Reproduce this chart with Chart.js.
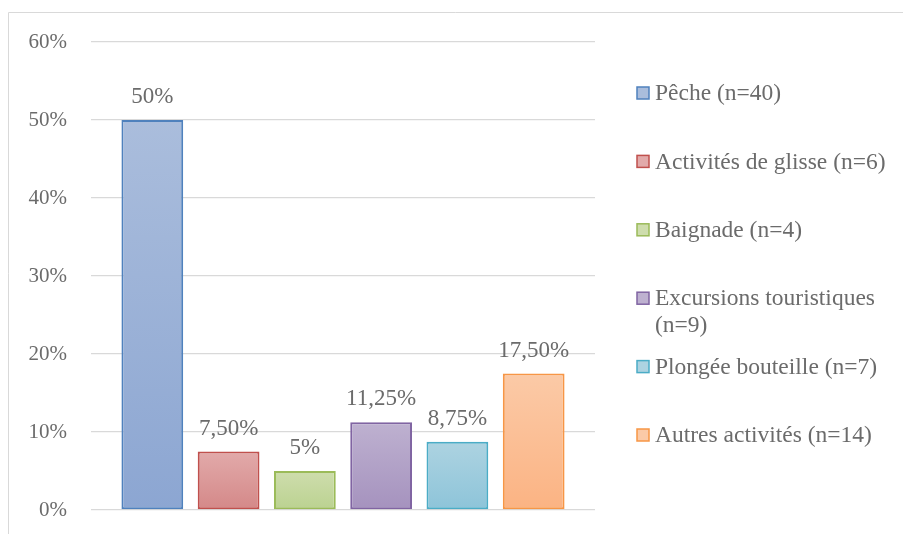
<!DOCTYPE html>
<html lang="fr">
<head>
<meta charset="utf-8">
<title>Activités</title>
<script src="https://cdn.jsdelivr.net/npm/chart.js@4/dist/chart.umd.min.js"></script>
<style>
  html, body { margin: 0; padding: 0; background: #fff; }
  .chart-wrap { position: relative; width: 903px; height: 534px; }
</style>
</head>
<body>
<div class="chart-wrap"><canvas id="chart"></canvas></div>
<script>
// data
const seriesNames = [
  "Pêche (n=40)",
  "Activités de glisse (n=6)",
  "Baignade (n=4)",
  "Excursions touristiques (n=9)",
  "Plongée bouteille (n=7)",
  "Autres activités (n=14)",
];
const seriesValues = [50, 7.5, 5, 11.25, 8.75, 17.5];
const yTicks = [0, 10, 20, 30, 40, 50, 60];

// office palette
const borderColors = ["#4F81BD", "#C0504D", "#9BBB59", "#8064A2", "#4BACC6", "#F79646"];
const fillTop = ["#AABDDC", "#E2AAAA", "#CEDDAD", "#BEB1D0", "#ADD3E1", "#FBCAA7"];
const fillBottom = ["#8CA6D2", "#D48888", "#BBD290", "#A592BE", "#8DC4D9", "#FBB383"];

const FONT = '"Liberation Serif", "Times New Roman", serif';
const TEXT = "#6b6b6b";

function formatPct(v) {
  if (Number.isInteger(v)) return v + "%";
  return v.toFixed(2).replace(".", ",") + "%";
}

const ctx = document.getElementById("chart").getContext("2d");

const frame = {
  id: "frame",
  beforeDraw(chart) {
    const c = chart.ctx;
    c.save();
    c.strokeStyle = "#D9D9D9";
    c.lineWidth = 1;
    c.beginPath();
    c.moveTo(8.5, chart.height);
    c.lineTo(8.5, 12.5);
    c.lineTo(chart.width, 12.5);
    c.stroke();
    c.restore();
  },
};

const dataLabels = {
  id: "dataLabels",
  afterDatasetsDraw(chart) {
    const c = chart.ctx;
    c.save();
    c.font = "23px " + FONT;
    c.fillStyle = TEXT;
    c.textAlign = "center";
    c.textBaseline = "alphabetic";
    chart.data.datasets.forEach((ds, i) => {
      const bar = chart.getDatasetMeta(i).data[0];
      c.fillText(formatPct(ds.data[0]), bar.x, bar.y - 17);
    });
    c.restore();
  },
};

// legend drawn by hand so the long entry can wrap like Excel
const sideLegend = {
  id: "sideLegend",
  afterDraw(chart) {
    const c = chart.ctx;
    const x0 = 637;
    const textX = 655;
    const maxW = 240;
    c.save();
    c.font = "23.5px " + FONT;
    c.textBaseline = "middle";
    c.textAlign = "left";
    chart.data.datasets.forEach((ds, i) => {
      const y = 93 + i * 68.4;
      // wrap words
      const words = ds.label.split(" ");
      const lines = [];
      let line = "";
      words.forEach((w) => {
        const test = line ? line + " " + w : w;
        if (c.measureText(test).width > maxW && line) {
          lines.push(line);
          line = w;
        } else {
          line = test;
        }
      });
      lines.push(line);

      c.fillStyle = fillTop[i];
      c.fillRect(x0, y - 6, 12, 12);
      c.strokeStyle = borderColors[i];
      c.lineWidth = 1.5;
      c.strokeRect(x0, y - 6, 12, 12);

      c.fillStyle = TEXT;
      lines.forEach((l, k) => c.fillText(l, textX, y + 1 + k * 27));
    });
    c.restore();
  },
};

new Chart(ctx, {
  type: "bar",
  data: {
    labels: [""],
    datasets: seriesNames.map((name, i) => ({
      label: name,
      data: [seriesValues[i]],
      borderColor: borderColors[i],
      borderWidth: 2,
      borderSkipped: false,
      categoryPercentage: 0.908,
      barPercentage: 0.81,
      backgroundColor: (context) => {
        const chart = context.chart;
        if (!chart.chartArea) return fillTop[i];
        const ys = chart.scales.y;
        const top = ys.getPixelForValue(seriesValues[i]);
        const base = ys.getPixelForValue(0);
        const g = chart.ctx.createLinearGradient(0, top, 0, base);
        g.addColorStop(0, fillTop[i]);
        g.addColorStop(1, fillBottom[i]);
        return g;
      },
    })),
  },
  options: {
    responsive: true,
    maintainAspectRatio: false,
    animation: false,
    layout: {
      padding: { top: 42, right: 308, bottom: 24, left: 0 },
    },
    plugins: {
      legend: { display: false },
      tooltip: { enabled: false },
    },
    scales: {
      x: {
        display: false,
      },
      y: {
        min: 0,
        max: 60,
        afterBuildTicks: (scale) => {
          scale.ticks = yTicks.map((v) => ({ value: v }));
        },
        afterFit: (scale) => {
          scale.width = 91;
          // tick padding would otherwise be added above and below the plot
          scale.paddingTop = 0;
          scale.paddingBottom = 0;
        },
        border: { display: false },
        grid: {
          color: "#D9D9D9",
          lineWidth: 1.3,
          drawTicks: false,
        },
        ticks: {
          padding: 24,
          color: TEXT,
          font: { family: FONT, size: 21 },
          callback: (v) => v + "%",
        },
      },
    },
  },
  plugins: [frame, dataLabels, sideLegend],
});
</script>
</body>
</html>
